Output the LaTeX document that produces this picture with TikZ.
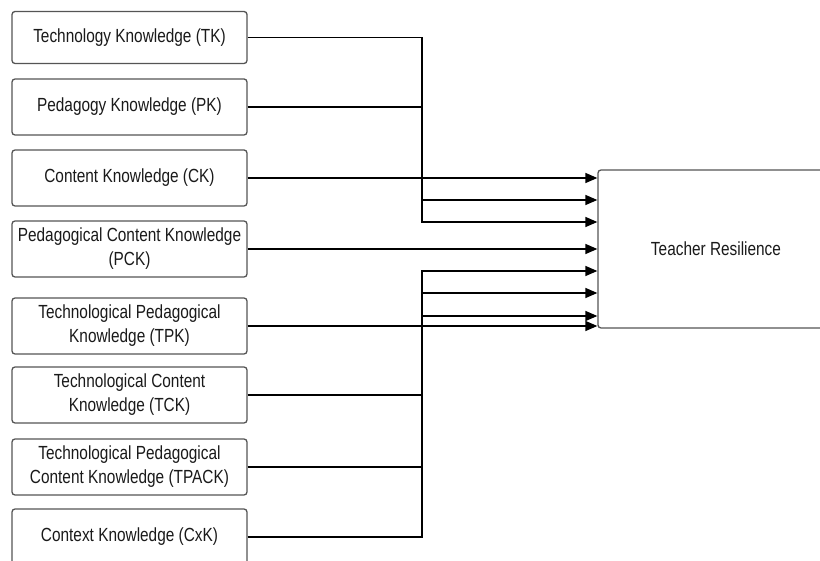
\documentclass[tikz,border=0pt]{standalone}
\usepackage{fontspec}
\setmainfont[FakeStretch=0.81]{Liberation Sans}
\usetikzlibrary{arrows.meta}
\definecolor{boxline}{HTML}{555555}
\definecolor{txt}{HTML}{1A1A1A}
\tikzset{
  src/.style={draw=boxline, line width=1.3pt, rounded corners=3pt, minimum width=235pt,
    minimum height=56pt, align=center, text=txt, inner sep=0pt,
    font=\fontsize{19}{24}\selectfont},
  tgt/.style={draw=boxline, line width=1.3pt, rounded corners=3pt, minimum width=236pt,
    minimum height=158pt, align=center, text=txt, inner sep=0pt,
    font=\fontsize{19}{24}\selectfont},
  conn/.style={draw=black, line width=1.4pt},
  arr/.style={conn, -{Triangle[length=12pt,width=10pt]}}
}
\begin{document}
\begin{tikzpicture}[x=1pt,y=-1pt]
\clip (0,0) rectangle (820,561);
\fill[white] (0,0) rectangle (820,561);
% source boxes
\node[src, minimum height=52pt] (tk) at (129.5,37.5) {Technology Knowledge (TK)};
\node[src] (pk) at (129.5,107) {Pedagogy Knowledge (PK)};
\node[src] (ck) at (129.5,178) {Content Knowledge (CK)};
\node[src] (pck) at (129.5,249) {Pedagogical Content Knowledge\\(PCK)};
\node[src] (tpk) at (129.5,326) {Technological Pedagogical\\Knowledge (TPK)};
\node[src] (tck) at (129.5,395) {Technological Content\\Knowledge (TCK)};
\node[src] (tpack) at (129.5,467) {Technological Pedagogical\\Content Knowledge (TPACK)};
\node[src] (cxk) at (129.5,537) {Context Knowledge (CxK)};
% target
\node[tgt] (tr) at (716,249) {Teacher Resilience};
% bus positions and entry points
\coordinate (bus) at (422,0);
\coordinate (in1) at (tr.west |- 0,178);
\coordinate (in2) at (tr.west |- 0,200);
\coordinate (in3) at (tr.west |- 0,222);
\coordinate (in4) at (tr.west |- 0,249);
\coordinate (in5) at (tr.west |- 0,271);
\coordinate (in6) at (tr.west |- 0,293);
\coordinate (in7) at (tr.west |- 0,316);
\coordinate (in8) at (tr.west |- 0,326);
% connectors
\draw[arr] (tk.east) -- (tk.east -| bus) |- (in3);
\draw[arr] (pk.east) -- (pk.east -| bus) |- (in2);
\draw[arr] (ck.east) -- (in1);
\draw[arr] (pck.east) -- (in4);
\draw[arr] (tpk.east) -- (in8);
\draw[arr] (tck.east) -- (tck.east -| bus) |- (in7);
\draw[arr] (tpack.east) -- (tpack.east -| bus) |- (in6);
\draw[arr] (cxk.east) -- (cxk.east -| bus) |- (in5);
\end{tikzpicture}
\end{document}
